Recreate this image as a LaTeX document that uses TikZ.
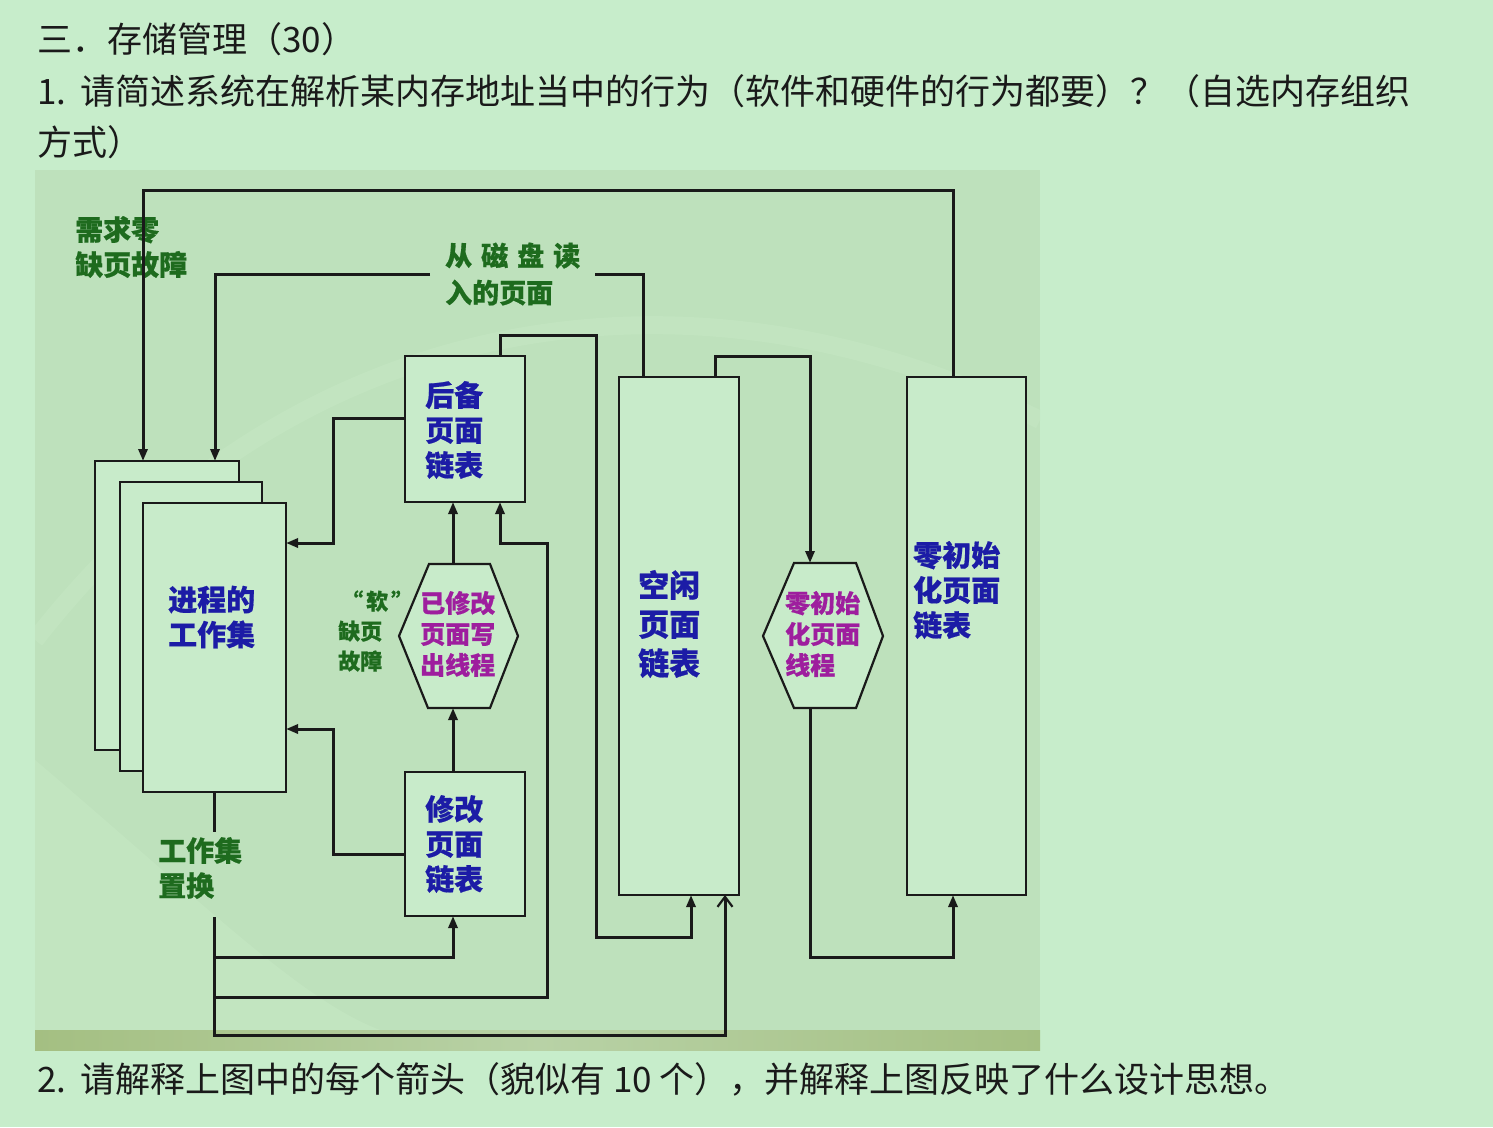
\documentclass[tikz,border=0pt]{standalone}
\usepackage{fontspec}
\setmainfont{Noto Sans CJK SC}
\usetikzlibrary{arrows.meta}
\definecolor{pagebg}{HTML}{C7EDCB}
\definecolor{panelbg}{HTML}{BEE1BC}
\definecolor{panellight}{HTML}{C6E8C4}
\definecolor{boxfill}{HTML}{C8EBCA}
\definecolor{lblblue}{HTML}{1C1CA6}
\definecolor{lblpurple}{HTML}{9E1E9E}
\definecolor{lblgreen}{HTML}{1E6B1E}
\definecolor{stripA}{HTML}{A4BF82}
\definecolor{stripB}{HTML}{B8D2A6}
\definecolor{inkc}{HTML}{1A1A1A}
\tikzset{
  box/.style={draw=inkc, line width=2.2pt, fill=boxfill, inner sep=0pt, outer sep=0pt, anchor=north west},
  hexa/.style={draw=inkc, line width=2.2pt, fill=boxfill},
  conn/.style={draw=inkc, line width=3pt},
  arr/.style={conn, -{Triangle[length=12pt,width=9pt]}},
  arropen/.style={conn, -{Straight Barb[length=10pt,width=15pt,line width=2.2pt]}},
  bluelbl/.style={font=\bfseries\addfontfeature{FakeBold=0.6}\fontsize{29}{35}\selectfont, text=lblblue, align=left, inner sep=0pt, anchor=west},
  purplelbl/.style={font=\bfseries\addfontfeature{FakeBold=0.6}\fontsize{25}{31}\selectfont, text=lblpurple, align=left, inner sep=0pt, anchor=west},
  greenlbl/.style={font=\bfseries\addfontfeature{FakeBold=0.6}\fontsize{28}{35}\selectfont, text=lblgreen, align=left, inner sep=0pt, anchor=west},
  heading/.style={font=\fontsize{35}{42}\selectfont, text=inkc, inner sep=0pt, anchor=base west},
}
\begin{document}
\begin{tikzpicture}[x=1pt,y=-1pt]
\useasboundingbox (0,0) rectangle (1493,1127);
\fill[pagebg] (0,0) rectangle (1493,1127);
% diagram panel
\fill[panelbg] (35,170) rectangle (1040,1050);
\begin{scope}
\clip (35,170) rectangle (1040,1030);
\fill[panellight, opacity=0.6] (35,760) .. controls (200,900) and (300,1000) .. (380,1030) -- (35,1030) -- cycle;
\draw[panellight, line width=18pt, opacity=0.5] (35,640) .. controls (300,300) and (700,250) .. (1040,420);
\end{scope}
\shade[left color=stripA, right color=stripB] (35,1030) rectangle (540,1050);
\shade[left color=stripB, right color=stripA] (540,1030) rectangle (1040,1050);

% headings
\node[heading] (h0) at (37,52) {三．存储管理（30）};
\node[heading] (h1) at (37,104) {1.\hspace{14pt}请简述系统在解析某内存地址当中的行为（软件和硬件的行为都要）？（自选内存组织};
\node[heading] (h2) at (37,155) {方式）};
\node[heading] (h3) at (37,1092) {2.\hspace{14pt}请解释上图中的每个箭头（貌似有 10 个），并解释上图反映了什么设计思想。};

% boxes
\node[box, minimum width=144, minimum height=289] (ws3) at (95,461) {};
\node[box, minimum width=142, minimum height=289] (ws2) at (120,482) {};
\node[box, minimum width=143, minimum height=289] (ws1) at (143,503) {};
\node[box, minimum width=120, minimum height=146] (backup) at (405,356) {};
\node[box, minimum width=120, minimum height=144] (modified) at (405,772) {};
\node[box, minimum width=120, minimum height=518] (free) at (619,377) {};
\node[box, minimum width=119, minimum height=518] (zero) at (907,377) {};

% hexagons
\draw[hexa] (399,636) -- (429,564) -- (490,564) -- (518,636) -- (490,708) -- (428,708) -- cycle;
\draw[hexa] (763,636) -- (794,563) -- (856,563) -- (883,636) -- (856,708) -- (794,708) -- cycle;
\coordinate (h1top) at (453,564);
\coordinate (h1bot) at (453,708);
\coordinate (h2top) at (810,563);
\coordinate (h2bot) at (810,708);

% box labels
\node[bluelbl] (wstext) at (168,617) {进程的\\工作集};
\node[bluelbl] (backuptext) at (425,430) {后备\\页面\\链表};
\node[bluelbl] (modtext) at (425,844) {修改\\页面\\链表};
\node[bluelbl, font=\bfseries\addfontfeature{FakeBold=0.6}\fontsize{31}{39}\selectfont] (freetext) at (638,624) {空闲\\页面\\链表};
\node[bluelbl] (zerotext) at (913,590) {零初始\\化页面\\链表};
\node[purplelbl] (hex1) at (420,634) {已修改\\页面写\\出线程};
\node[purplelbl] (hex2) at (785,634) {零初始\\化页面\\线程};

% green labels
\node[greenlbl] (demand) at (75,247) {需求零\\缺页故障};
\node[greenlbl, font=\bfseries\addfontfeature{FakeBold=0.6}\fontsize{27}{37}\selectfont, inner xsep=15pt] (disk) at (430,274) {从\hspace{9pt}磁\hspace{9pt}盘\hspace{9pt}读\\入的页面};
\node[greenlbl, font=\bfseries\addfontfeature{FakeBold=0.6}\fontsize{22}{30}\selectfont] (soft) at (338,631) {\hspace{3pt}“\hspace{3pt}软\hspace{3pt}”\\缺页\\故障};
\node[greenlbl] (replace) at (158,868) {工作集\\置换};

% connectors
\draw[arr] ([xshift=-13.5]zero.north) -- ++(0,-187) -| ([xshift=-24]ws3.north);
\draw[conn] ([xshift=-36]free.north) |- (disk.east);
\draw[arr] (disk.west) -| ([xshift=48]ws3.north);

\draw[arr] ([yshift=11]backup.west) -| ++(-72,125) -- ([yshift=104.5]ws1.east);
\draw[arr] ([yshift=-10]modified.west) -| ++(-72,-125) -- ([yshift=-81.5]ws1.east);

\draw[arr] (h1top) -- ([xshift=-12]backup.south);
\draw[arr] ([xshift=-12]modified.north) -- (h1bot);

\draw[arr] ([xshift=35]backup.north) -- ++(0,-21) -| ++(96,602) -| ([xshift=12]free.south);
\draw[arr] ([xshift=36]free.north) -- ++(0,-21) -| (h2top);
\draw[arr] (h2bot) |- ++(143,249) -- ([xshift=-13.5]zero.south);

% working set replacement trunk
\draw[conn] (ws1.south) -- ++(0,40);
\draw[arropen] ([yshift=-125]ws1.south) -- ++(0,118) -| ([xshift=46]free.south);
\draw[arr] ([yshift=-165]ws1.south) -| ([xshift=-12]modified.south);
\draw[arr] ([yshift=-205]ws1.south) -| ++(333,-454) -| ([xshift=35]backup.south);
\end{tikzpicture}
\end{document}
